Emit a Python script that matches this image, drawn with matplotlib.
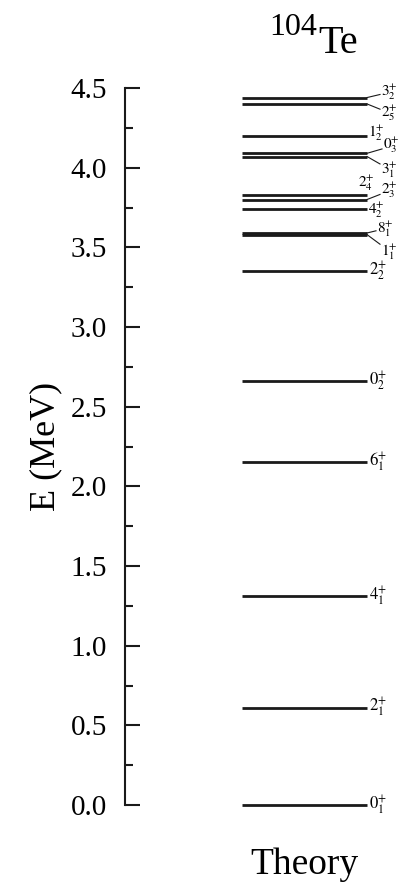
import matplotlib
matplotlib.use("Agg")
import matplotlib.pyplot as plt
from matplotlib.ticker import MultipleLocator

plt.rcParams['font.family'] = ['Liberation Serif', 'DejaVu Serif']
plt.rcParams['mathtext.fontset'] = 'stix'

# level energies (MeV) and their spin labels
energies = [0.00, 0.61, 1.31, 2.15, 2.66, 3.35, 3.58, 3.59, 3.74, 3.80, 3.83, 4.07, 4.09, 4.20, 4.40, 4.44]
spins = ['0', '2', '4', '6', '0', '2', '1', '8', '4', '2', '2', '3', '0', '1', '2', '3']
index = ['1', '1', '1', '1', '2', '2', '1', '1', '2', '3', '4', '1', '3', '2', '5', '2']

mass = '104'
element = 'Te'
column = 'Theory'

W, H = 398, 883
fig = plt.figure(figsize=(W / 100, H / 100), dpi=100)

# axis spine at x=125px, E=0 at y=805px, E=4.5 at y=88px
ax = fig.add_axes([125 / W, (H - 805) / H, (W - 125) / W, (805 - 88) / H])
ax.set_ylim(0, 4.5)
ax.set_xlim(0, 1)

def px(x):
    # figure pixel column -> axes fraction
    return (x - 125) / (W - 125)

x0, x1 = px(242), px(367)
ax.hlines(energies, x0, x1, color='#1a1a1a', lw=2.0, clip_on=False)

# label placement where levels crowd together: (label energy, label x in px, connector?)
layout = {
    6: (3.47, 381, True),
    7: (3.615, 377, True),
    8: (3.73, 368, False),
    9: (3.858, 381, True),
    10: (3.905, 358, False),
    11: (3.985, 381, True),
    12: (4.14, 383, True),
    13: (4.215, 368, False),
    14: (4.34, 381, True),
    15: (4.475, 381, True),
}

for i, e in enumerate(energies):
    txt = r'$%s^{+}_{%s}$' % (spins[i], index[i])
    lay = layout.get(i)
    if lay is None:
        ly, lx, conn, fs = e, 369, False, 12
    else:
        ly, lx, conn = lay
        fs = 11
    if conn:
        ax.plot([x1, px(lx - 1)], [e, ly + (e - ly) * 0.45], color='#1a1a1a', lw=0.8, clip_on=False)
    ax.text(px(lx), ly, txt, fontsize=fs, ha='left', va='center', clip_on=False)

for s in ['top', 'right', 'bottom']:
    ax.spines[s].set_visible(False)
ax.spines['left'].set_linewidth(1.5)
ax.spines['left'].set_color('#1a1a1a')
ax.set_xticks([])
ax.yaxis.set_major_locator(MultipleLocator(0.5))
ax.yaxis.set_minor_locator(MultipleLocator(0.25))
ax.yaxis.set_major_formatter(lambda v, p: '%.1f' % v)
ax.tick_params(axis='y', which='major', direction='in', length=11, width=1.5, pad=13, labelsize=21, color='#1a1a1a')
ax.tick_params(axis='y', which='minor', direction='in', length=5.5, width=1.5, color='#1a1a1a')

ax.set_ylabel('E (MeV)', fontsize=26)
ax.yaxis.set_label_coords(px(46), 0.5)
ax.yaxis.label.set_verticalalignment('center')

fig.text(317 / W, 1 - 35 / H, mass, fontsize=23, ha='right', va='baseline')
fig.text(318 / W, 1 - 53 / H, element, fontsize=29, ha='left', va='baseline')
fig.text(304 / W, 1 - 874 / H, column, fontsize=27, ha='center', va='baseline')

fig.savefig('out.png', dpi=100)
